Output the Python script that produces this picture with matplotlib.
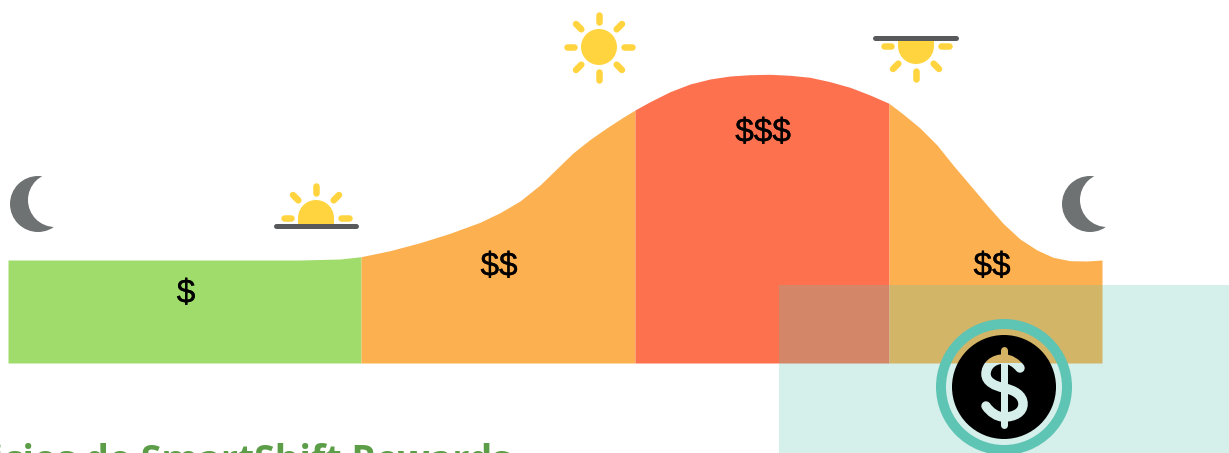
import matplotlib
matplotlib.use("Agg")
import matplotlib.pyplot as plt
import matplotlib.patheffects as pe
import numpy as np
from matplotlib.patches import Circle, Rectangle, Wedge, PathPatch
from matplotlib.path import Path

# curve top edge, in picture pixels
curve_x = [8, 300, 340, 361, 390, 420, 450, 480, 500, 520, 540, 557, 573, 590, 607, 623, 635,
           650, 670, 690, 710, 730, 750, 770, 790, 810, 830, 850, 870, 889,
           903, 920, 937, 953, 970, 987, 1003, 1020, 1037, 1053, 1070, 1087, 1102]
curve_y = [260, 260, 259, 256.7, 250.7, 242.7, 233.3, 222.3, 212.7, 201, 185, 168.5, 153, 139.5, 127.7, 117.3, 110,
           101.7, 91.7, 84, 79, 76, 74.7, 74.3, 75.3, 77.3, 81.7, 87.3, 95, 103.3,
           114, 128, 145, 165, 185, 205, 223.3, 239, 250, 257.3, 260.7, 261, 260]

# day periods
period_edges = [8, 361, 635, 889, 1102]
period_colors = ["#a0dc6c", "#fcb04f", "#fd714f", "#fcb04f"]
price_labels = ["$", "$$", "$$$", "$$"]
label_x = [186, 499, 763, 992]
label_y = [294, 267, 133, 267]

title_text = "Beneficios de SmartShift Rewards"

YELLOW = "#ffd43f"
DARK = "#58595b"
MOON = "#6f7273"
TEAL = "#5ec4b3"
BASE = 363

plt.rcParams["font.family"] = ["Open Sans", "DejaVu Sans"]

fig = plt.figure(figsize=(12.29, 4.53), dpi=100)
ax = fig.add_axes([0, 0, 1, 1])
ax.set_xlim(0, 1229)
ax.set_ylim(453, 0)
ax.axis("off")

px = 72 / 100  # one pixel in points

x = np.array(curve_x)
y = np.array(curve_y)
for i, color in enumerate(period_colors):
    mask = (x >= period_edges[i]) & (x <= period_edges[i + 1])
    ax.fill_between(x[mask], y[mask], BASE, color=color, lw=0, zorder=1)
    ax.text(label_x[i], label_y[i], price_labels[i], fontsize=24,
            family=["Liberation Sans", "DejaVu Sans"], ha="center", va="center", color="black",
            zorder=2, parse_math=False,
            path_effects=[pe.withStroke(linewidth=0.25, foreground="black")])


def rays(cx, cy, angles):
    for a in angles:
        t = np.radians(a)
        ax.plot([cx + 25 * np.cos(t), cx + 32.5 * np.cos(t)],
                [cy - 25 * np.sin(t), cy - 32.5 * np.sin(t)],
                color=YELLOW, lw=6.5 * px, solid_capstyle="round", zorder=3)


# full sun
ax.add_patch(Circle((599, 47), 18, color=YELLOW, lw=0, zorder=3))
rays(599, 47, range(0, 360, 45))

# sunrise, above its line
ax.add_patch(Wedge((316, 218), 18, 180, 360, color=YELLOW, lw=0, zorder=3))
ax.add_patch(Rectangle((298, 218), 36, 6, color=YELLOW, lw=0, zorder=3))
rays(316, 218, [0, 45, 90, 135, 180])
ax.plot([276, 356], [225.7, 225.7], color=DARK, lw=5 * px, solid_capstyle="round", zorder=4)

# sunset, below its line
ax.add_patch(Wedge((916, 46), 18, 0, 180, color=YELLOW, lw=0, zorder=3))
ax.add_patch(Rectangle((898, 38), 36, 8, color=YELLOW, lw=0, zorder=3))
rays(916, 46, [0, 180, 225, 270, 315])
ax.plot([875, 956], [37.7, 37.7], color=DARK, lw=5 * px, solid_capstyle="round", zorder=4)

# moons
for mx in [38, 1090]:
    ax.add_patch(Circle((mx, 204), 28, color=MOON, lw=0, zorder=3))
    ax.add_patch(Circle((mx + 17, 200), 27, color="white", lw=0, zorder=3))

# translucent panel
ax.add_patch(Rectangle((779, 285), 450, 168, facecolor=TEAL, alpha=0.26, lw=0, zorder=5))

# coin
cx, cy = 1004, 387
ax.add_patch(Wedge((cx, cy), 68, 0, 360, width=10, color=TEAL, lw=0, zorder=6))
ax.add_patch(Circle((cx, cy), 52, color="black", lw=0, zorder=6))

s_verts = [(1020, 368),
           (1016, 363), (1010, 359), (1004, 359),
           (993, 359), (986, 366), (986, 374),
           (986, 382), (995, 386), (1004, 388),
           (1014, 390), (1023, 395), (1023, 404),
           (1023, 412), (1015, 417), (1004, 417),
           (997, 417), (990, 412), (986, 406)]
s_codes = [Path.MOVETO] + [Path.CURVE4] * 18
spine = [[cx, cx], [350, 425]]
# the dollar sign looks cut out of the coin: tan over the bar, pale teal below
for color, clip_y, clip_h in [("#d5b264", 285, BASE - 285), ("#d6efeb", BASE, 453 - BASE)]:
    clip = Rectangle((cx - 60, clip_y), 120, clip_h, transform=ax.transData)
    s = PathPatch(Path(s_verts, s_codes), fill=False, edgecolor=color, lw=9.5 * px,
                  capstyle="round", zorder=7)
    ax.add_patch(s)
    s.set_clip_path(clip)
    line, = ax.plot(spine[0], spine[1], color=color, lw=7 * px, solid_capstyle="round", zorder=7)
    line.set_clip_path(clip)

ax.text(511, 472, title_text, fontsize=27, fontweight="bold", color="#5c9e48",
        ha="right", va="baseline", zorder=8)

fig.savefig("out.png", dpi=100)
